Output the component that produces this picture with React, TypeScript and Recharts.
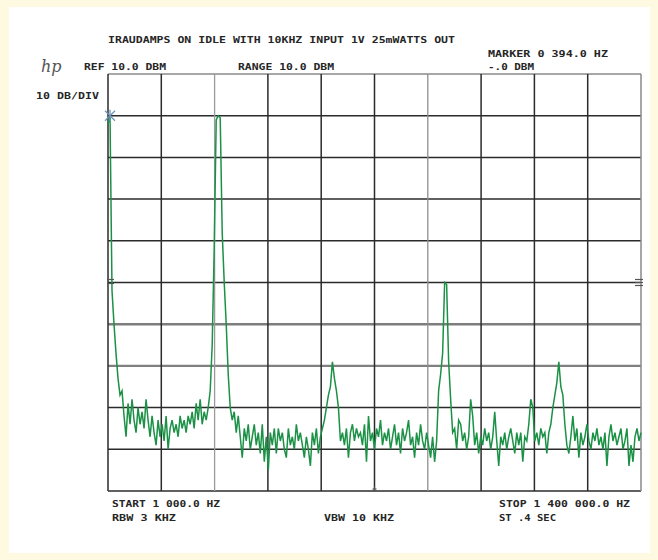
import React from "react";
import { LineChart, Line, XAxis, YAxis, ReferenceLine, ReferenceDot } from "recharts";

// Sweep settings (Hz) and display (dBm)
const START_HZ = 1000;
const STOP_HZ = 1400000;
const REF_DBM = 10;
const BOTTOM_DBM = -90;
const DIVS = 10;

// Trace levels in dBm, split by sweep section
const sweepFundamental = [-2, 0, -42, -50, -57, -63, -67, -66];
const sweepFloor1 = [
  -72, -77, -69, -74, -68, -73, -76, -70, -74, -71,
  -75, -68, -73, -77, -72, -76, -79, -73, -77, -74,
  -78, -72, -80, -75, -73, -76, -74, -77, -72, -75,
  -73, -76, -72, -74, -71, -75, -69, -73, -68, -74,
  -71, -73, -70,
];
const sweepPeak2 = [-66, -55, -32, -1, 0, -0.5, -28, -40, -50, -62, -70];
const sweepFloor2 = [
  -73, -71, -76, -72, -77, -82, -75, -78, -74, -80,
  -77, -74, -79, -76, -81, -74, -83, -77, -85, -76,
  -79, -75, -81, -75, -78, -76, -80, -82, -75, -79,
  -77, -80, -74, -78, -76, -79, -82, -77, -80, -84,
  -76, -79, -75, -81, -77, -75,
];
const sweepPeak3 = [-73, -70, -67, -65, -59, -63, -66, -70, -78];
const sweepFloor3 = [
  -76, -79, -75, -82, -76, -74, -78, -75, -77, -76,
  -79, -74, -83, -72, -78, -76, -80, -75, -77, -73,
  -79, -76, -78, -75, -80, -77, -74, -79, -76, -81,
  -75, -78, -76, -73, -79, -77, -82, -76, -79, -74,
  -78, -80, -76, -79, -82, -77,
];
const sweepPeak4 = [-83, -78, -66, -62, -57, -40, -40.5, -59, -68, -76];
const sweepFloor4 = [
  -75, -80, -73, -74, -78, -76, -80, -77, -68, -72,
  -79, -76, -81, -77, -79, -75, -78, -76, -80, -77,
  -71, -78, -84, -77, -79, -76, -80, -77, -75, -78,
  -81, -76, -79, -76, -83, -77, -78, -74, -68, -70,
  -78, -76, -79, -75, -77, -76,
];
const sweepPeak5 = [-81, -76, -74, -70, -67, -64, -59, -65, -67, -74, -79];
const sweepFloor5 = [
  -81, -77, -72, -78, -75, -82, -76, -79, -77, -74,
  -78, -80, -76, -78, -75, -79, -77, -80, -76, -84,
  -77, -74, -78, -76, -79, -77, -75, -80, -78, -75,
  -84, -79, -83, -77, -75, -78, -76,
];

const levels = [
  ...sweepFundamental, ...sweepFloor1, ...sweepPeak2, ...sweepFloor2, ...sweepPeak3,
  ...sweepFloor3, ...sweepPeak4, ...sweepFloor4, ...sweepPeak5, ...sweepFloor5,
];

const MARKER_INDEX = 1;

// Annotation texts
const TITLE = "IRAUDAMPS ON IDLE WITH 10KHZ INPUT 1V 25mWATTS OUT";
const MARKER_TEXT = "MARKER 0 394.0 HZ";
const MARKER_LEVEL = "-.0 DBM";
const REF_TEXT = "REF 10.0 DBM";
const RANGE_TEXT = "RANGE 10.0 DBM";
const SCALE_TEXT = "10 DB/DIV";
const START_TEXT = "START 1 000.0 HZ";
const STOP_TEXT = "STOP 1 400 000.0 HZ";
const RBW_TEXT = "RBW 3 KHZ";
const VBW_TEXT = "VBW 10 KHZ";
const SWEEP_TEXT = "ST .4 SEC";

const data = levels.map((dbm, i) => ({
  freq: START_HZ + (i * (STOP_HZ - START_HZ)) / (levels.length - 1),
  dbm,
}));

const xTicks = Array.from({ length: DIVS + 1 }, (_, k) => START_HZ + (k * (STOP_HZ - START_HZ)) / DIVS);
const yTicks = Array.from({ length: DIVS + 1 }, (_, k) => BOTTOM_DBM + k * 10);

// grid line styles: lighter/heavier lines as seen on the plot
const grayY: Record<number, [string, number]> = {
  10: ["#8a8a8a", 1.6],
  [-50]: ["#7d7d7d", 2.6],
  [-60]: ["#808080", 2.4],
};
const grayX: Record<number, [string, number]> = {
  2: ["#9a9a9a", 1.3],
  6: ["#8f8f8f", 1.3],
  10: ["#888888", 1.5],
};

const CREAM = "#fef9e1";
const INK = "#262626";
const TRACE = "#1b9146";

const textStyle: React.CSSProperties = {
  fontFamily: "'DejaVu Sans Mono', monospace",
  fontWeight: 700,
  fontSize: 9,
};

const labels: { t: string; x: number; y: number; w: number }[] = [
  { t: TITLE, x: 108, y: 43, w: 347 },
  { t: MARKER_TEXT, x: 488, y: 57, w: 120 },
  { t: REF_TEXT, x: 84, y: 70, w: 82 },
  { t: RANGE_TEXT, x: 238, y: 70, w: 96 },
  { t: MARKER_LEVEL, x: 488, y: 70, w: 46 },
  { t: SCALE_TEXT, x: 36, y: 99, w: 63 },
  { t: START_TEXT, x: 112, y: 507, w: 108 },
  { t: STOP_TEXT, x: 499, y: 507, w: 131 },
  { t: RBW_TEXT, x: 112, y: 521, w: 64 },
  { t: VBW_TEXT, x: 324, y: 521, w: 70 },
  { t: SWEEP_TEXT, x: 499, y: 521, w: 57 },
];

const Asterisk = (p: any) => (
  <g stroke="#6f95b5" strokeWidth={1.3}>
    <line x1={p.cx - 5} y1={p.cy - 5} x2={p.cx + 5} y2={p.cy + 5} />
    <line x1={p.cx - 5} y1={p.cy + 5} x2={p.cx + 5} y2={p.cy - 5} />
    <line x1={p.cx} y1={p.cy - 6} x2={p.cx} y2={p.cy + 6} />
  </g>
);

const LeftMark = (p: any) => (
  <g stroke="#555" strokeWidth={1.2}>
    <line x1={p.cx - 1} y1={p.cy - 3} x2={p.cx + 6} y2={p.cy - 3} />
    <line x1={p.cx - 1} y1={p.cy + 1} x2={p.cx + 6} y2={p.cy + 1} />
  </g>
);

const RightMark = (p: any) => (
  <g stroke="#555" strokeWidth={1.2}>
    <line x1={p.cx - 6} y1={p.cy - 3} x2={p.cx + 2} y2={p.cy - 3} />
    <line x1={p.cx - 6} y1={p.cy} x2={p.cx + 2} y2={p.cy} />
    <line x1={p.cx - 6} y1={p.cy + 3} x2={p.cx + 2} y2={p.cy + 3} />
  </g>
);

const BottomMark = (p: any) => (
  <g stroke="#555" strokeWidth={1.2}>
    <line x1={p.cx} y1={p.cy - 4} x2={p.cx} y2={p.cy} />
    <line x1={p.cx - 2} y1={p.cy - 2} x2={p.cx + 2} y2={p.cy - 2} />
  </g>
);

export default function App() {
  return (
    <div style={{ position: "absolute", left: 0, top: 0, width: 658, height: 560, background: CREAM }}>
      <div style={{ position: "absolute", left: 9, top: 7, width: 641, height: 546, background: "#ffffff" }} />
      <div style={{ position: "absolute", left: 0, top: 0 }}>
        <LineChart width={658} height={560} data={data} margin={{ top: 74, right: 17, bottom: 69, left: 108 }}>
          <XAxis
            dataKey="freq"
            type="number"
            domain={[START_HZ, STOP_HZ]}
            ticks={xTicks}
            height={0}
            tick={false}
            tickLine={false}
            axisLine={false}
          />
          <YAxis
            type="number"
            domain={[BOTTOM_DBM, REF_DBM]}
            ticks={yTicks}
            width={0}
            tick={false}
            tickLine={false}
            axisLine={false}
          />
          {yTicks.map((v) => (
            <ReferenceLine
              key={"h" + v}
              y={v}
              stroke={grayY[v] ? grayY[v][0] : "#2b2b2b"}
              strokeWidth={grayY[v] ? grayY[v][1] : 1.5}
            />
          ))}
          {xTicks.map((v, k) => (
            <ReferenceLine
              key={"v" + k}
              x={v}
              stroke={grayX[k] ? grayX[k][0] : "#2b2b2b"}
              strokeWidth={grayX[k] ? grayX[k][1] : 1.5}
            />
          ))}
          <Line
            type="linear"
            dataKey="dbm"
            stroke={TRACE}
            strokeWidth={1.5}
            dot={false}
            isAnimationActive={false}
          />
          <ReferenceDot x={data[MARKER_INDEX].freq} y={levels[MARKER_INDEX]} r={0} shape={Asterisk} />
          <ReferenceDot x={START_HZ} y={-40} r={0} shape={LeftMark} />
          <ReferenceDot x={STOP_HZ} y={-40} r={0} shape={RightMark} />
          <ReferenceDot x={xTicks[5]} y={BOTTOM_DBM} r={0} shape={BottomMark} />
        </LineChart>
      </div>
      <svg width={658} height={560} style={{ position: "absolute", left: 0, top: 0, pointerEvents: "none" }}>
        <text x={41} y={72} style={{ fontFamily: "'DejaVu Serif', serif", fontStyle: "italic", fontSize: 16 }} fill="#555">
          hp
        </text>
        {labels.map((l) => (
          <text key={l.t} x={l.x} y={l.y} style={textStyle} fill={INK} textLength={l.w} lengthAdjust="spacingAndGlyphs">
            {l.t}
          </text>
        ))}
      </svg>
    </div>
  );
}
